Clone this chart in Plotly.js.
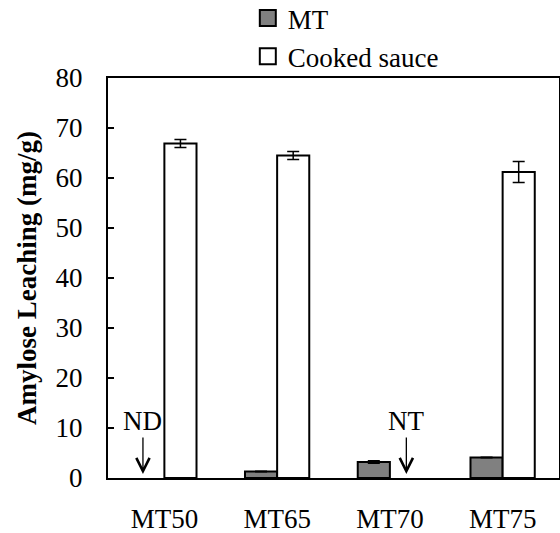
<!DOCTYPE html>
<html>
<head>
<meta charset="utf-8">
<script src="https://cdn.plot.ly/plotly-3.0.1.min.js"></script>
<style>html,body{margin:0;padding:0;background:#fff;}#chart{width:560px;height:533px;}</style>
</head>
<body>
<div id="chart"></div>
<script>
const categories = ["MT50", "MT65", "MT70", "MT75"];
const mtValues = [null, 1.3, 3.2, 4.1];
const mtErrors = [0, 0, 0.2, 0];
const cookedValues = [66.9, 64.5, null, 61.2];
const cookedErrors = [0.8, 0.8, 0, 2.1];
const seriesNames = ["MT", "Cooked sauce"];
const yTickValues = [0, 10, 20, 30, 40, 50, 60, 70, 80];
const notes = [
  {text: "ND", category: 0, offset: -0.19},
  {text: "NT", category: 2, offset: 0.146}
];

const FONT = 'Liberation Serif, Times New Roman, serif';

const traces = [
  {
    type: 'bar', x: categories, y: mtValues, name: seriesNames[0], showlegend: false,
    marker: {color: '#808080', line: {color: '#000', width: 2}},
    error_y: {type: 'data', array: mtErrors, visible: true, color: '#000', thickness: 2, width: 6}
  },
  {
    type: 'bar', x: categories, y: cookedValues, name: seriesNames[1], showlegend: false,
    marker: {color: '#fff', line: {color: '#000', width: 2}},
    error_y: {type: 'data', array: cookedErrors, visible: true, color: '#000', thickness: 1.5, width: 6}
  },
  {
    type: 'scatter', mode: 'markers', x: [null], y: [null], name: seriesNames[0],
    marker: {symbol: 'square', size: 16, color: '#808080', line: {color: '#000', width: 2}}
  },
  {
    type: 'scatter', mode: 'markers', x: [null], y: [null], name: seriesNames[1],
    marker: {symbol: 'square', size: 16, color: '#fff', line: {color: '#000', width: 2}}
  }
];

const annotations = notes.map(n => ({
  x: n.category + n.offset, y: 0.8, xref: 'x', yref: 'y',
  text: n.text, showarrow: true, ax: 0, ay: -53,
  arrowhead: 5, arrowsize: 2, arrowwidth: 1.3, arrowcolor: '#000',
  font: {family: FONT, size: 27, color: '#000'}
}));

const layout = {
  width: 560, height: 533,
  margin: {l: 108, r: 1, t: 78, b: 55, autoexpand: false},
  paper_bgcolor: '#fff', plot_bgcolor: '#fff',
  font: {family: FONT, size: 27, color: '#000'},
  barmode: 'group', bargap: 0.43, bargroupgap: 0,
  showlegend: true,
  legend: {
    x: 0.31, xanchor: 'left', y: 1.21, yanchor: 'top',
    orientation: 'v', bgcolor: 'rgba(0,0,0,0)', borderwidth: 0,
    font: {family: FONT, size: 27, color: '#000'},
    itemwidth: 30, tracegroupgap: 0
  },
  xaxis: {
    type: 'category', range: [-0.5, 3.5], automargin: false,
    showline: true, linecolor: '#000', linewidth: 2, mirror: true,
    ticks: '', showgrid: false, zeroline: false,
    ticklabelstandoff: 16,
    tickfont: {family: FONT, size: 27, color: '#000'}
  },
  yaxis: {
    range: [0, 80], tickmode: 'array', tickvals: yTickValues, automargin: false,
    showline: true, linecolor: '#000', linewidth: 2, mirror: true,
    ticks: 'inside', ticklen: 6, tickwidth: 1.5, tickcolor: '#000',
    showgrid: false, zeroline: false,
    ticklabelstandoff: 18,
    tickfont: {family: FONT, size: 27, color: '#000'},
    title: {text: '<b>Amylose Leaching (mg/g)</b>', standoff: 11,
            font: {family: FONT, size: 27, color: '#000'}}
  },
  annotations: annotations
};

Plotly.newPlot('chart', traces, layout, {displayModeBar: false, staticPlot: true});
</script>
</body>
</html>
